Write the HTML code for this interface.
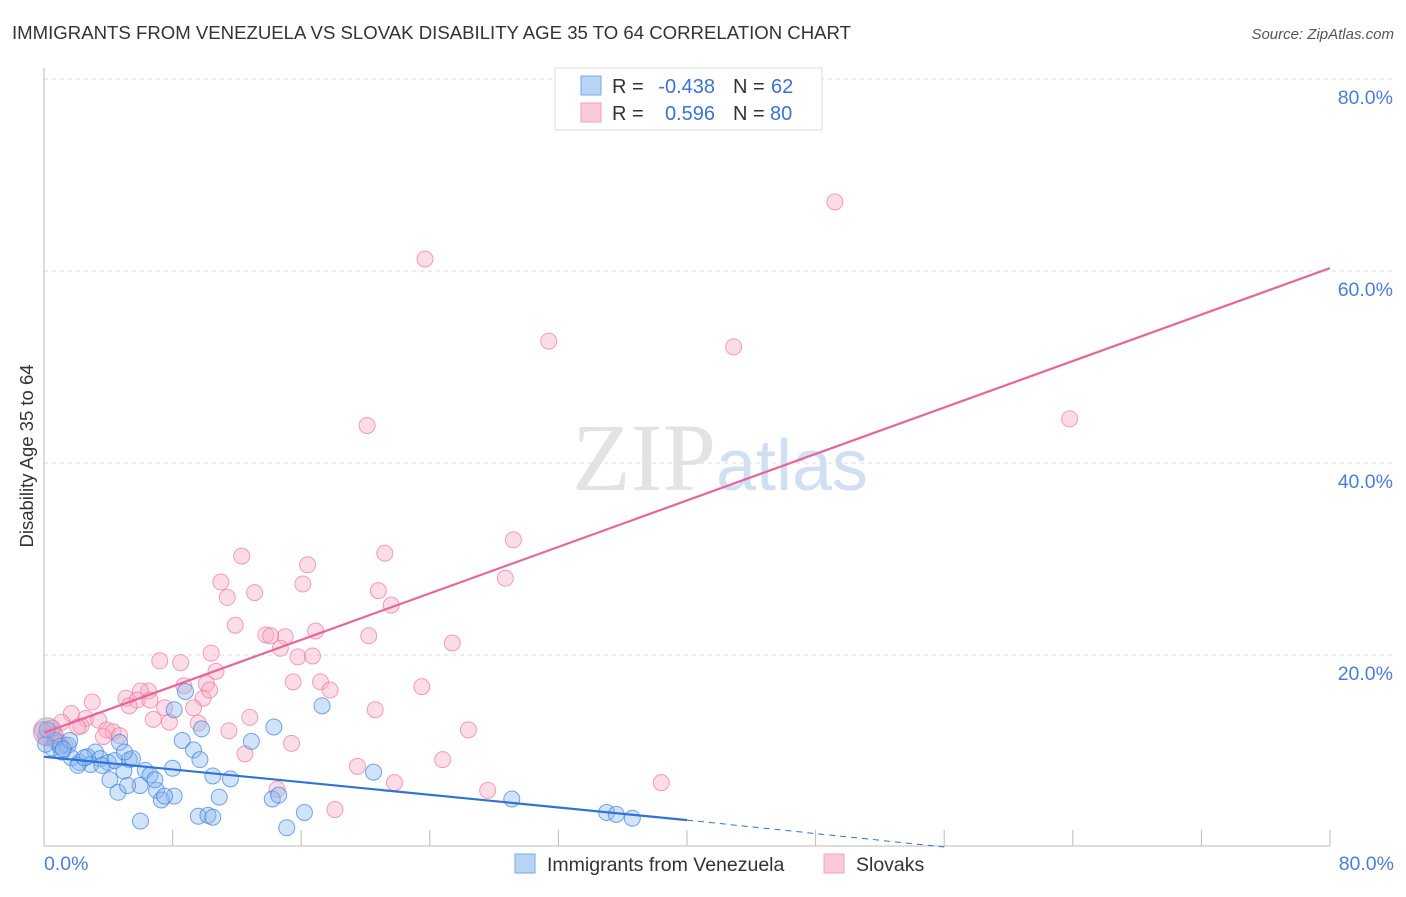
<!DOCTYPE html>
<html><head><meta charset="utf-8"><style>
body{margin:0;background:#fff;font-family:"Liberation Sans",sans-serif}
</style></head><body>
<svg width="1406" height="892" xmlns="http://www.w3.org/2000/svg" font-family="Liberation Sans, sans-serif">
<text x="12" y="39" font-size="18.6" fill="#333">IMMIGRANTS FROM VENEZUELA VS SLOVAK DISABILITY AGE 35 TO 64 CORRELATION CHART</text>
<text x="1394" y="39" font-size="15" fill="#555" text-anchor="end" font-style="italic">Source: ZipAtlas.com</text>
<text x="720" y="490" font-size="96" text-anchor="middle" font-family="Liberation Serif, serif" fill="#ddd" opacity="0.8">ZIP<tspan fill="#c5d8f0" font-family="Liberation Sans, sans-serif" font-size="72">atlas</tspan></text>
<g id="grid"></g>
<g id="axes"></g>
<g id="pts"></g>
<g id="lines"></g>
<text transform="translate(33,456) rotate(-90)" font-size="18.5" fill="#333" text-anchor="middle">Disability Age 35 to 64</text>
<text x="44" y="870" font-size="19.5" fill="#4a7fd6">0.0%</text>
<text x="1394" y="870" font-size="19.5" fill="#4a7fd6" text-anchor="end">80.0%</text>
<g font-size="20">
<rect x="555" y="68" width="267" height="62" fill="#fff" stroke="#ddd"/>
<rect x="581" y="76" width="20" height="19" fill="#b8d4f5" stroke="#7aa7e0"/>
<rect x="581" y="103" width="20" height="19" fill="#fbcad8" stroke="#f0a0b8"/>
<text x="612" y="93" fill="#333">R =</text>
<text x="715" y="93" fill="#3a74d0" text-anchor="end">-0.438</text>
<text x="733" y="93" fill="#333">N =</text>
<text x="771" y="93" fill="#3a74d0">62</text>
<text x="612" y="120" fill="#333">R =</text>
<text x="715" y="120" fill="#3a74d0" text-anchor="end">0.596</text>
<text x="733" y="120" fill="#333">N =</text>
<text x="770" y="120" fill="#3a74d0">80</text>
</g>
<g>
<rect x="515" y="854" width="20" height="19" fill="#b8d4f5" stroke="#7aa7e0"/>
<text x="547" y="871" font-size="19.5" fill="#333">Immigrants from Venezuela</text>
<rect x="824" y="854" width="20" height="19" fill="#fbcad8" stroke="#f0a0b8"/>
<text x="856" y="871" font-size="19.5" fill="#333">Slovaks</text>
</g>
</svg>
<script>
const yTicks=[20,40,60,80];
const yTickLabels=["20.0%","40.0%","60.0%","80.0%"];
const xTicks=[0,8,16,24,32,40,48,56,64,72,80];
const pinkX=[49.2,23.7,31.4,42.9,63.8,20.1,29.2,12.3,21.2,16.4,11,28.7,16.1,11.4,13.1,20.8,21.6,11.9,16.9,13.8,15,14.1,14.7,25.4,20.2,15.8,16.7,10.4,7.2,8.5,10.7,15.5,17.2,17.8,23.5,10.1,8.7,6.5,6,5.1,9.9,3,5.8,5.3,7.5,20.6,9.3,12.8,6.8,7.8,2.6,1.7,3.4,1.1,2.3,3.9,9.6,11.5,0.5,-0.1,4.3,4.7,26.4,15.4,12.5,24.8,19.5,21.8,14.5,27.6,38.4,18.1,0.1,1,0.7,3.7,2.1,1.3,6.6,10.3];
const pinkY=[67.2,61.25,52.7,52.1,44.6,43.9,32,30.3,30.6,29.4,27.6,28,27.4,26,26.5,26.7,25.2,23.1,22.5,22.1,21.9,22,20.7,21.25,22,19.8,19.9,20.2,19.4,19.2,18.3,17.2,17.2,16.35,16.7,17,16.8,16.25,16.25,15.5,15.5,15.1,15.3,14.7,14.5,14.3,14.5,13.5,13.3,13,13.4,13.9,13.2,13,12.6,12.2,12.9,12.1,12.4,12.2,12,11.6,12.2,10.8,9.7,9.1,8.4,6.7,6,5.9,6.7,3.9,11.4,10.9,11.7,11.5,12.5,10.6,15.3,16.35];
const blueX=[17.3,14.3,8.8,8.1,8.6,12.9,4.7,9.8,9.3,3.2,5.3,1.5,0.7,0.5,0.1,1,1.7,2.2,2.7,3.5,4,4.4,4.97,5.5,2.9,2.1,1.1,6.3,6.6,8,10.5,11.6,5.97,7,8.1,4.1,4.6,5.2,7.3,20.5,10.9,14.2,14.6,16.2,29.1,35,35.6,36.6,9.6,10.2,10.5,15.1,6,7.5,2.5,3.6,0.2,1.6,1.2,5,6.9,9.7];
const blueY=[14.7,12.5,16.2,14.3,11.1,11,10.9,12.3,10.1,9.9,9.1,10.6,11.1,10.3,10.7,10.5,9.3,8.8,9.4,9.2,8.8,9,7.9,9.2,8.6,8.5,9.9,8,7.5,8.2,7.4,7.1,6.4,5.9,5.3,7,5.7,6.4,4.9,7.8,5.2,5,5.4,3.6,5,3.6,3.4,3,3.2,3.3,3.1,2,2.7,5.3,9.3,8.5,12.2,11.1,10.2,9.9,7,9.1];
const pinkLine=[[0,11.9],[80,60.3]];
const blueSolid=[[0,9.4],[40,2.8]];
const blueDash=[[40,2.8],[56,0]];
const NS="http://www.w3.org/2000/svg";
const X=v=>44+v*16.075, Y=v=>847-v*9.6;
function mk(t,a,p){const e=document.createElementNS(NS,t);for(const k in a)e.setAttribute(k,a[k]);p.appendChild(e);return e;}
const grid=document.getElementById('grid'),axes=document.getElementById('axes'),pts=document.getElementById('pts'),lines=document.getElementById('lines');
yTicks.forEach((t,i)=>{
 const l=mk('line',{x1:44,x2:1394,y1:Y(t),y2:Y(t),stroke:'#ddd','stroke-dasharray':'4,4'},grid);
 
 
 const tx=mk('text',{x:1393,y:Y(t)+25,'font-size':19.5,fill:'#4a7fd6','text-anchor':'end'},grid);
 tx.textContent=yTickLabels[i];
 
 
});
const ax=mk('line',{x1:44,x2:44,y1:68,y2:846,stroke:'#bbb'},axes);


const bx=mk('line',{x1:44,x2:1330,y1:846,y2:846,stroke:'#bbb'},axes);


xTicks.slice(1).forEach(t=>{
 const l=mk('line',{x1:X(t),x2:X(t),y1:830,y2:846,stroke:'#bbb'},axes);
 
 
});
pinkX.forEach((v,i)=>{
 const c=mk('circle',{cx:X(v),cy:Y(pinkY[i]),r:8,fill:'rgba(248,170,195,0.4)',stroke:'rgba(235,120,160,0.7)','stroke-width':1},pts);
 
 
});
blueX.forEach((v,i)=>{
 const c=mk('circle',{cx:X(v),cy:Y(blueY[i]),r:8,fill:'rgba(140,185,240,0.4)',stroke:'rgba(60,130,220,0.7)','stroke-width':1},pts);
 
 
});
const big=mk('circle',{cx:X(0.2),cy:Y(12),r:14,fill:'rgba(170,160,210,0.45)',stroke:'rgba(200,140,180,0.6)'},pts);


function ln(d,col,dash,name){const l=mk('line',{x1:X(d[0][0]),y1:Y(d[0][1]),x2:X(d[1][0]),y2:Y(d[1][1]),stroke:col,'stroke-width':dash?1:2.2},lines);if(dash)l.setAttribute('stroke-dasharray','6,5');
 
 }
ln(pinkLine,'#e8649a',false,'slovaks-trend-line');
ln(blueSolid,'#2f73d8',false,'venezuela-trend-line');
ln(blueDash,'#2f73d8',true,'venezuela-trend-extension');
</script>
</body></html>
